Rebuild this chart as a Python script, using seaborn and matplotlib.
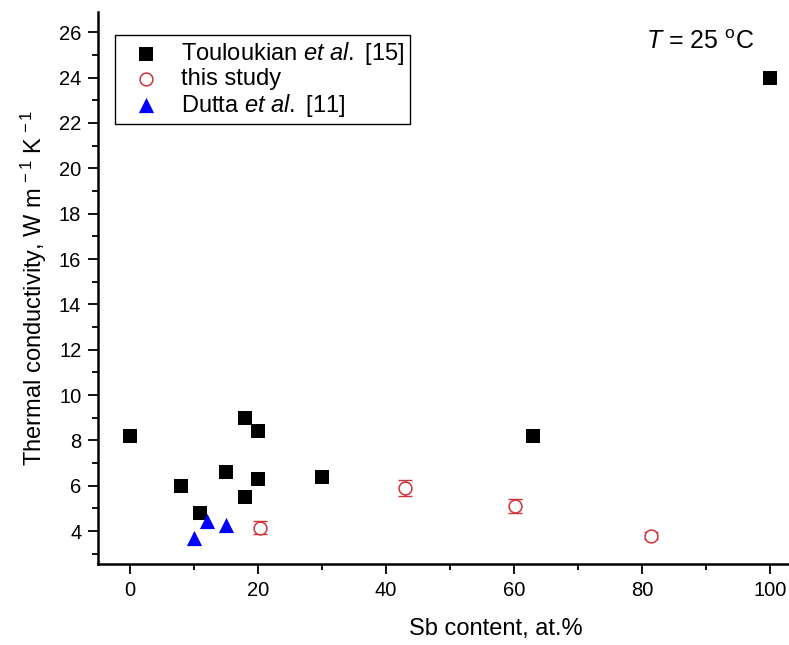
"""Thermal conductivity vs Sb content at 25 C."""

import matplotlib

matplotlib.use("Agg")
import matplotlib.pyplot as plt
import pandas as pd
import seaborn as sns
from matplotlib.ticker import MultipleLocator


# Touloukian et al. [15]
touloukian_sb = [0, 8, 11, 15, 18, 20, 20, 18, 30, 63, 100]
touloukian_k = [8.2, 6.0, 4.8, 6.6, 9.0, 8.4, 6.3, 5.5, 6.4, 8.2, 24.0]

# this study
study_sb = [20.3, 43.0, 60.2, 81.5]
study_k = [4.15, 5.9, 5.1, 3.8]
study_err = [0.28, 0.36, 0.3, 0.15]

# Dutta et al. [11]
dutta_sb = [10, 12, 15]
dutta_k = [3.7, 4.45, 4.25]

RED = "#d0343a"
BLUE = "#0000ff"


def setup_style():
    sns.set_theme(style="ticks")
    plt.rcParams["font.family"] = ["Liberation Sans", "DejaVu Sans"]
    plt.rcParams["mathtext.fontset"] = "custom"
    plt.rcParams["mathtext.rm"] = "Liberation Sans"
    plt.rcParams["mathtext.it"] = "Liberation Sans:italic"
    plt.rcParams["text.color"] = "black"
    plt.rcParams["axes.labelcolor"] = "black"
    plt.rcParams["xtick.color"] = "black"
    plt.rcParams["ytick.color"] = "black"


def main():
    setup_style()

    touloukian_df = pd.DataFrame({"Sb": touloukian_sb, "k": touloukian_k})
    study_df = pd.DataFrame({"Sb": study_sb, "k": study_k, "err": study_err})
    dutta_df = pd.DataFrame({"Sb": dutta_sb, "k": dutta_k})

    fig = plt.figure(figsize=(7.89, 6.45), dpi=100)
    ax = fig.add_axes([0.1242, 0.1256, 0.892, 0.856])

    sns.scatterplot(
        data=touloukian_df, x="Sb", y="k", marker="s", s=95,
        color="black", edgecolor="black", linewidth=0,
        label=r"Touloukian $\it{et\ al.}$ [15]", ax=ax, zorder=3,
    )
    ax.errorbar(
        study_df["Sb"], study_df["k"], yerr=study_df["err"], fmt="none",
        ecolor=RED, elinewidth=1.0, capsize=5, capthick=1.0, zorder=2,
    )
    sns.scatterplot(
        data=study_df, x="Sb", y="k", marker="o", s=85,
        facecolor="white", edgecolor=RED, linewidth=1.1,
        label="this study", ax=ax, zorder=3,
    )
    sns.scatterplot(
        data=dutta_df, x="Sb", y="k", marker="^", s=120,
        color=BLUE, edgecolor=BLUE, linewidth=0,
        label=r"Dutta $\it{et\ al.}$ [11]", ax=ax, zorder=4,
    )

    ax.set_xlim(-5, 105)
    ax.set_ylim(2.55, 26.9)
    ax.xaxis.set_major_locator(MultipleLocator(20))
    ax.xaxis.set_minor_locator(MultipleLocator(10))
    ax.yaxis.set_major_locator(MultipleLocator(2))
    ax.yaxis.set_minor_locator(MultipleLocator(1))
    ax.set_yticks(range(4, 27, 2))
    ax.tick_params(which="major", direction="out", length=7, width=1.3,
                   labelsize=14.5, color="black", labelcolor="black", pad=5)
    ax.tick_params(which="minor", direction="out", length=4, width=1.3,
                   color="black")
    ax.spines["top"].set_visible(False)
    ax.spines["right"].set_visible(False)
    for side in ["left", "bottom"]:
        ax.spines[side].set_linewidth(1.8)
        ax.spines[side].set_color("black")

    ax.set_xlabel("Sb content, at.%", fontsize=17, color="black", va="center")
    ax.xaxis.set_label_coords(0.565, -0.117)
    ax.set_ylabel(r"Thermal conductivity, W m$^{\,-1}$ K$^{\,-1}$",
                  fontsize=17, color="black", labelpad=7)

    ax.text(80.6, 25.55, r"$\it{T}$ = 25 $^{\rm o}$C", fontsize=18,
            va="center", color="black")

    legend = ax.legend(
        loc="upper left", bbox_to_anchor=(0.024, 0.958), fontsize=17,
        frameon=True, fancybox=False, edgecolor="black", framealpha=1,
        handletextpad=0.4, borderpad=0.22, labelspacing=0.05, borderaxespad=0,
        handlelength=2.2,
    )
    legend.get_frame().set_linewidth(1.0)
    for text in legend.get_texts():
        text.set_color("black")

    fig.savefig("out.png", dpi=100)
    plt.close(fig)


if __name__ == "__main__":
    main()
